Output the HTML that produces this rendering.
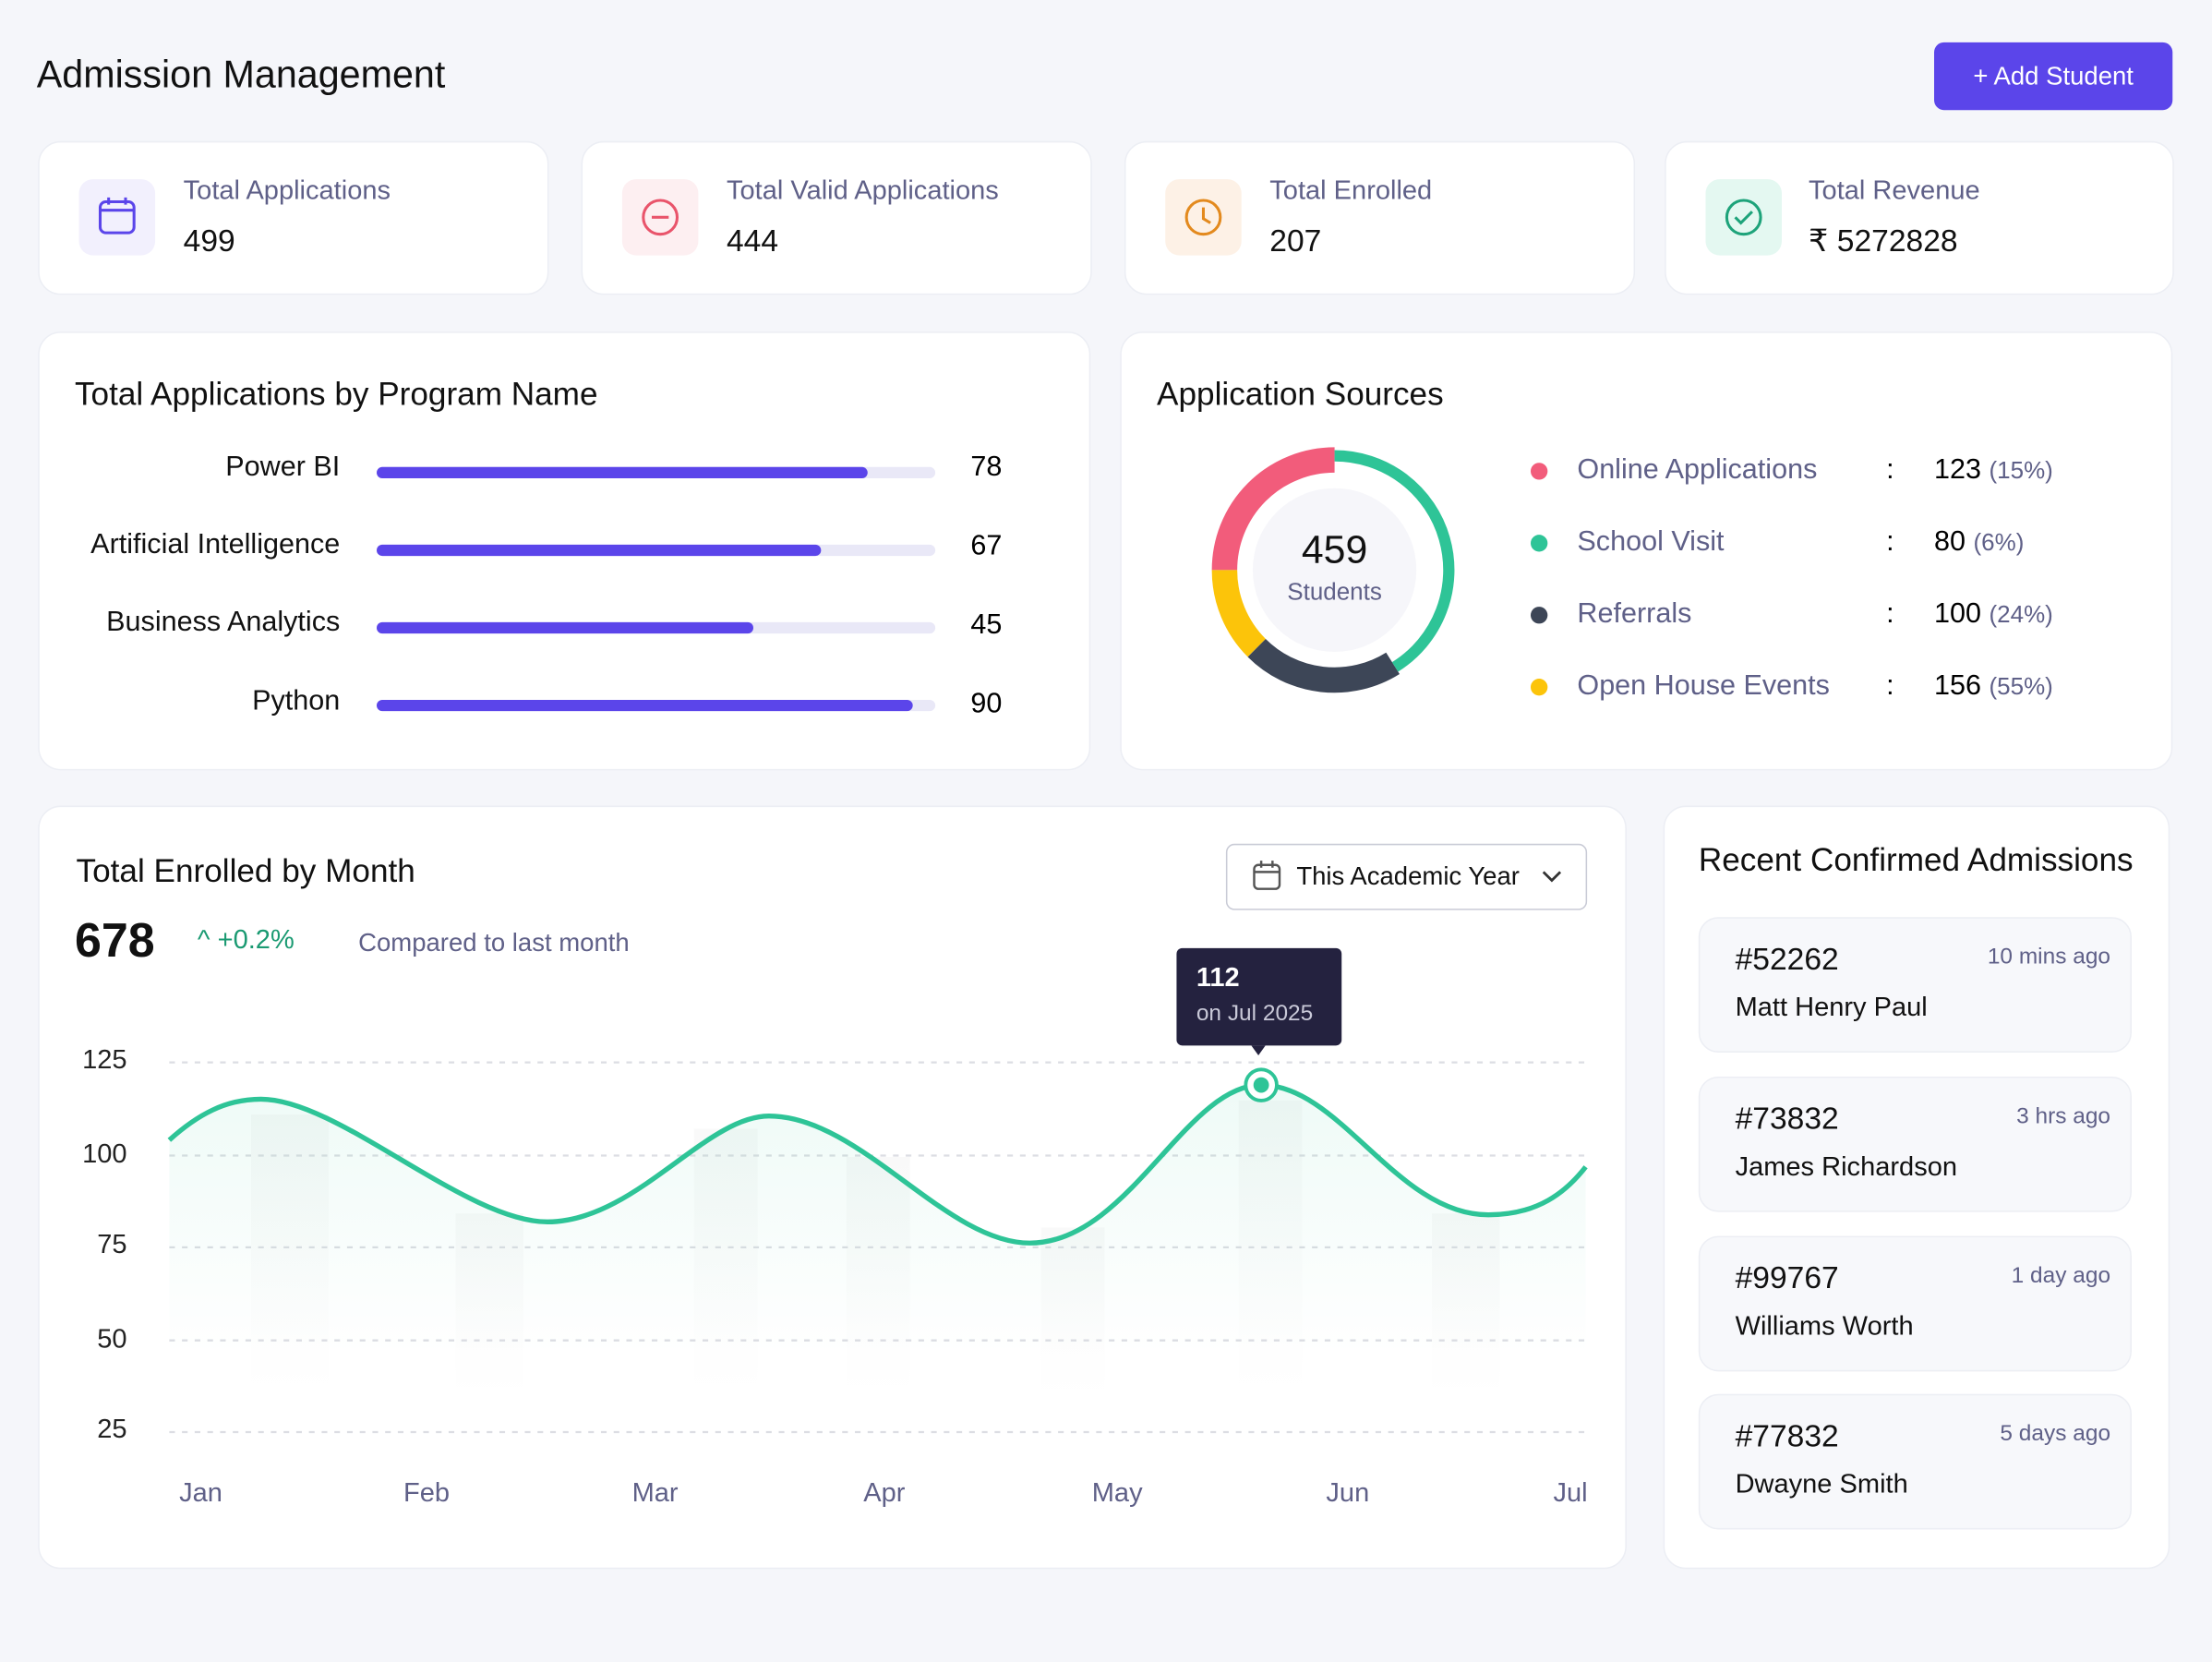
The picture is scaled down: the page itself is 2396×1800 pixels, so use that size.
<!DOCTYPE html>
<html><head><meta charset="utf-8"><style>
html,body{margin:0;padding:0;background:#f5f6fa;}
body{width:2396px;height:1800px;overflow:hidden;font-family:"Liberation Sans",sans-serif;}
#w{position:absolute;left:0;top:0;width:1568px;height:1178px;transform:scale(1.5281);transform-origin:0 0;}
.a{position:absolute;}
.card{position:absolute;background:#fff;border:1px solid #eceef4;border-radius:16px;}
.lbl{color:#5f6088;font-size:19px;}
.val{color:#111;font-size:22px;}
.ic{position:absolute;left:28px;top:26px;width:54px;height:54px;border-radius:10px;}
.h{font-size:23px;color:#111;}
.bl{position:absolute;right:0;font-size:20px;color:#111;text-align:right;}
.track{position:absolute;left:267px;width:396px;height:8px;border-radius:4px;background:#e9e8f7;}
.fill{height:8px;border-radius:4px;background:#5b45ea;}
.ln{position:absolute;font-size:20px;}
.adm{position:absolute;left:1204px;width:305px;height:94px;background:#f7f8fb;border:1px solid #eceef4;border-radius:14px;}
.adm .id{position:absolute;left:25px;top:16px;font-size:22px;color:#111;}
.adm .t{position:absolute;right:14px;top:19px;font-size:16px;color:#5f6088;}
.adm .n{position:absolute;left:25px;top:53px;font-size:19px;color:#111;}
.yl{position:absolute;left:40px;width:50px;text-align:right;font-size:19px;color:#222;}
.xl{position:absolute;top:1048px;font-size:19px;color:#5f6088;}
</style></head><body><div id="w">
<div class="a" style="left:26px;top:38px;font-size:27px;color:#111;">Admission Management</div>
<div class="a" style="left:1371px;top:30px;width:169px;height:48px;background:#5b45ea;border-radius:7px;color:#fff;font-size:18px;line-height:48px;text-align:center;">+ Add Student</div>

<div class="card" style="left:27px;top:100px;width:360px;height:107px;">
<div class="ic" style="background:#f2f0fd;"><svg width="54" height="54"><rect x="15" y="16" width="24" height="22" rx="4" fill="none" stroke="#5b45ea" stroke-width="2"/><line x1="15" y1="22" x2="39" y2="22" stroke="#5b45ea" stroke-width="2"/><line x1="21" y1="13" x2="21" y2="18" stroke="#5b45ea" stroke-width="2"/><line x1="33" y1="13" x2="33" y2="18" stroke="#5b45ea" stroke-width="2"/></svg></div>
<div class="a lbl" style="left:102px;top:24px;">Total Applications</div><div class="a val" style="left:102px;top:57px;">499</div></div>
<div class="card" style="left:412px;top:100px;width:360px;height:107px;">
<div class="ic" style="background:#fdeff1;"><svg width="54" height="54"><circle cx="27" cy="27" r="12" fill="none" stroke="#e9546b" stroke-width="2"/><line x1="21" y1="27" x2="33" y2="27" stroke="#e9546b" stroke-width="2"/></svg></div>
<div class="a lbl" style="left:102px;top:24px;">Total Valid Applications</div><div class="a val" style="left:102px;top:57px;">444</div></div>
<div class="card" style="left:797px;top:100px;width:360px;height:107px;">
<div class="ic" style="background:#fdf1e6;"><svg width="54" height="54"><circle cx="27" cy="27" r="12" fill="none" stroke="#e38a1e" stroke-width="2"/><polyline points="27,20 27,28 32,31" fill="none" stroke="#e38a1e" stroke-width="2"/></svg></div>
<div class="a lbl" style="left:102px;top:24px;">Total Enrolled</div><div class="a val" style="left:102px;top:57px;">207</div></div>
<div class="card" style="left:1180px;top:100px;width:359px;height:107px;">
<div class="ic" style="background:#e4f8f1;"><svg width="54" height="54"><circle cx="27" cy="27" r="12" fill="none" stroke="#1ea37a" stroke-width="2"/><polyline points="21,27 25,31 33,23" fill="none" stroke="#1ea37a" stroke-width="2"/></svg></div>
<div class="a lbl" style="left:101px;top:24px;">Total Revenue</div><div class="a val" style="left:101px;top:57px;">₹ 5272828</div></div>

<div class="card" style="left:27px;top:235px;width:744px;height:309px;">
<div class="a h" style="left:25px;top:30px;">Total Applications by Program Name</div></div>
<div class="bl" style="right:1327px;top:320px;">Power BI</div>
<div class="bl" style="right:1327px;top:375px;">Artificial Intelligence</div>
<div class="bl" style="right:1327px;top:430px;">Business Analytics</div>
<div class="bl" style="right:1327px;top:486px;">Python</div>
<div class="track" style="top:331px;"><div class="fill" style="width:348px;"></div></div>
<div class="track" style="top:386px;"><div class="fill" style="width:315px;"></div></div>
<div class="track" style="top:441px;"><div class="fill" style="width:267px;"></div></div>
<div class="track" style="top:496px;"><div class="fill" style="width:380px;"></div></div>
<div class="a" style="left:688px;top:320px;font-size:20px;">78</div>
<div class="a" style="left:688px;top:376px;font-size:20px;">67</div>
<div class="a" style="left:688px;top:432px;font-size:20px;">45</div>
<div class="a" style="left:688px;top:488px;font-size:20px;">90</div>

<div class="card" style="left:794px;top:235px;width:744px;height:309px;">
<div class="a h" style="left:25px;top:30px;">Application Sources</div></div>
<svg class="a" style="left:0;top:0;" width="1568" height="600">
<circle cx="946" cy="404" r="58" fill="#f6f6fa"/>
<path d="M946 326 A78 78 0 0 0 868 404" fill="none" stroke="#f25c7b" stroke-width="18"/>
<path d="M868 404 A78 78 0 0 0 890.8 459.2" fill="none" stroke="#fcc40a" stroke-width="18"/>
<path d="M890.8 459.2 A78 78 0 0 0 987.3 470.1" fill="none" stroke="#3d4657" stroke-width="18"/>
<path d="M988.9 472.7 A81 81 0 0 0 946 323" fill="none" stroke="#2ec497" stroke-width="8"/>
<circle cx="1091" cy="334" r="6" fill="#f25c7b"/><circle cx="1091" cy="385" r="6" fill="#2ec497"/>
<circle cx="1091" cy="436" r="6" fill="#3d4657"/><circle cx="1091" cy="487" r="6" fill="#fcc40a"/>
</svg>
<div class="a" style="left:906px;top:374px;width:80px;text-align:center;font-size:28px;color:#111;">459</div>
<div class="a" style="left:896px;top:410px;width:100px;text-align:center;font-size:17px;color:#5f6088;">Students</div>
<div class="ln" style="left:1118px;top:322px;color:#5f6088;">Online Applications</div>
<div class="ln" style="left:1118px;top:373px;color:#5f6088;">School Visit</div>
<div class="ln" style="left:1118px;top:424px;color:#5f6088;">Referrals</div>
<div class="ln" style="left:1118px;top:475px;color:#5f6088;">Open House Events</div>
<div class="ln" style="left:1337px;top:322px;">:</div><div class="ln" style="left:1337px;top:373px;">:</div><div class="ln" style="left:1337px;top:424px;">:</div><div class="ln" style="left:1337px;top:475px;">:</div>
<div class="ln" style="left:1371px;top:322px;">123 <span style="font-size:17px;color:#5f6088">(15%)</span></div>
<div class="ln" style="left:1371px;top:373px;">80 <span style="font-size:17px;color:#5f6088">(6%)</span></div>
<div class="ln" style="left:1371px;top:424px;">100 <span style="font-size:17px;color:#5f6088">(24%)</span></div>
<div class="ln" style="left:1371px;top:475px;">156 <span style="font-size:17px;color:#5f6088">(55%)</span></div>

<div class="card" style="left:27px;top:571px;width:1124px;height:539px;">
<div class="a h" style="left:26px;top:32px;">Total Enrolled by Month</div></div>
<div class="a" style="left:869px;top:598px;width:254px;height:45px;border:1px solid #c9cbd6;border-radius:6px;background:#fff;">
<svg class="a" style="left:16px;top:10px" width="24" height="24"><rect x="3" y="4" width="18" height="17" rx="3" fill="none" stroke="#555" stroke-width="1.6"/><line x1="3" y1="9" x2="21" y2="9" stroke="#555" stroke-width="1.6"/><line x1="8" y1="1" x2="8" y2="6" stroke="#555" stroke-width="1.6"/><line x1="16" y1="1" x2="16" y2="6" stroke="#555" stroke-width="1.6"/></svg>
<div class="a" style="left:49px;top:12px;font-size:18px;color:#111;">This Academic Year</div>
<svg class="a" style="left:222px;top:16px" width="16" height="12"><polyline points="2,3 8,9 14,3" fill="none" stroke="#333" stroke-width="1.8"/></svg></div>
<div class="a" style="left:53px;top:648px;font-size:34px;color:#111;font-weight:bold;">678</div>
<div class="a" style="left:140px;top:656px;font-size:19px;color:#1a9a72;">^ +0.2%</div>
<div class="a" style="left:254px;top:658px;font-size:18px;color:#5f6088;">Compared to last month</div>

<svg class="a" style="left:0;top:0" width="1568" height="1178">
<defs><linearGradient id="g" x1="0" y1="0" x2="0" y2="1"><stop offset="0" stop-color="#2ec497" stop-opacity="0.08"/><stop offset="1" stop-color="#2ec497" stop-opacity="0"/></linearGradient>
<linearGradient id="b" x1="0" y1="0" x2="0" y2="1"><stop offset="0" stop-color="#eee" stop-opacity="0.35"/><stop offset="1" stop-color="#eee" stop-opacity="0"/></linearGradient></defs>
<g fill="url(#b)"><rect x="178" y="790" width="55" height="200"/><rect x="323" y="860" width="48" height="130"/><rect x="492" y="800" width="45" height="190"/><rect x="600" y="820" width="45" height="170"/><rect x="738" y="870" width="45" height="120"/><rect x="878" y="780" width="45" height="210"/><rect x="1015" y="860" width="48" height="130"/></g>
<g stroke="#dcdde3" stroke-width="1.5" stroke-dasharray="4 5"><line x1="120" y1="753" x2="1124" y2="753"/><line x1="120" y1="819" x2="1124" y2="819"/><line x1="120" y1="884" x2="1124" y2="884"/><line x1="120" y1="950" x2="1124" y2="950"/><line x1="120" y1="1015" x2="1124" y2="1015"/></g>
<path d="M120 808 C140 790,160 779,185 779 C240 779,330 866,388 866 C450 866,500 791,545 791 C610 791,670 881,730 881 C800 881,840 769,894 769 C950 769,990 861,1055 861 C1090 861,1110 845,1124 827 L1124 960 L120 960 Z" fill="url(#g)"/>
<path d="M120 808 C140 790,160 779,185 779 C240 779,330 866,388 866 C450 866,500 791,545 791 C610 791,670 881,730 881 C800 881,840 769,894 769 C950 769,990 861,1055 861 C1090 861,1110 845,1124 827" fill="none" stroke="#2ec497" stroke-width="3.5"/>
<circle cx="894" cy="769" r="11" fill="#fff" stroke="#2ec497" stroke-width="2.5"/><circle cx="894" cy="769" r="5.5" fill="#2ec497"/>
<rect x="834" y="672" width="117" height="69" rx="4" fill="#24223f"/><polygon points="887,741 897,741 892,748" fill="#24223f"/>
</svg>
<div class="a" style="left:848px;top:683px;font-size:19px;color:#fff;font-weight:bold;">112</div>
<div class="a" style="left:848px;top:710px;font-size:16px;color:#c9c9d8;">on Jul 2025</div>
<div class="yl" style="top:741px;">125</div><div class="yl" style="top:808px;">100</div><div class="yl" style="top:872px;">75</div><div class="yl" style="top:939px;">50</div><div class="yl" style="top:1003px;">25</div>
<div class="xl" style="left:127px;">Jan</div><div class="xl" style="left:286px;">Feb</div><div class="xl" style="left:448px;">Mar</div><div class="xl" style="left:612px;">Apr</div><div class="xl" style="left:774px;">May</div><div class="xl" style="left:940px;">Jun</div><div class="xl" style="left:1101px;">Jul</div>

<div class="card" style="left:1179px;top:571px;width:357px;height:539px;">
<div class="a h" style="left:24px;top:24px;">Recent Confirmed Admissions</div></div>
<div class="adm" style="top:650px;"><div class="id">#52262</div><div class="t">10 mins ago</div><div class="n">Matt Henry Paul</div></div>
<div class="adm" style="top:763px;"><div class="id">#73832</div><div class="t">3 hrs ago</div><div class="n">James Richardson</div></div>
<div class="adm" style="top:876px;"><div class="id">#99767</div><div class="t">1 day ago</div><div class="n">Williams Worth</div></div>
<div class="adm" style="top:988px;"><div class="id">#77832</div><div class="t">5 days ago</div><div class="n">Dwayne Smith</div></div>
</div></body></html>
